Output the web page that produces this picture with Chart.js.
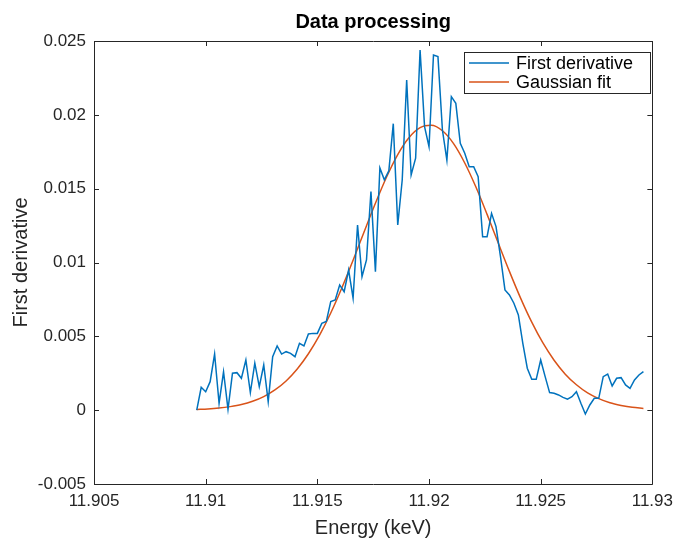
<!DOCTYPE html>
<html>
<head>
<meta charset="utf-8">
<script src="https://cdn.jsdelivr.net/npm/chart.js@4.4.1/dist/chart.umd.min.js"></script>
<style>
  html, body { margin: 0; padding: 0; background: #fff; }
</style>
</head>
<body>
<canvas id="chart" width="680" height="541"></canvas>
<script>
// --- Data ---
const energy = [
    11.9096, 11.9098, 11.9100, 11.9102, 11.9104, 11.9106, 11.9108, 11.9110, 11.9112, 11.9114,
    11.9116, 11.9118, 11.9120, 11.9122, 11.9124, 11.9126, 11.9128, 11.9130, 11.9132, 11.9134,
    11.9136, 11.9138, 11.9140, 11.9142, 11.9144, 11.9146, 11.9148, 11.9150, 11.9152, 11.9154,
    11.9156, 11.9158, 11.9160, 11.9162, 11.9164, 11.9166, 11.9168, 11.9170, 11.9172, 11.9174,
    11.9176, 11.9178, 11.9180, 11.9182, 11.9184, 11.9186, 11.9188, 11.9190, 11.9192, 11.9194,
    11.9196, 11.9198, 11.9200, 11.9202, 11.9204, 11.9206, 11.9208, 11.9210, 11.9212, 11.9214,
    11.9216, 11.9218, 11.9220, 11.9222, 11.9224, 11.9226, 11.9228, 11.9230, 11.9232, 11.9234,
    11.9236, 11.9238, 11.9240, 11.9242, 11.9244, 11.9246, 11.9248, 11.9250, 11.9252, 11.9254,
    11.9256, 11.9258, 11.9260, 11.9262, 11.9264, 11.9266, 11.9268, 11.9270, 11.9272, 11.9274,
    11.9276, 11.9278, 11.9280, 11.9282, 11.9284, 11.9286, 11.9288, 11.9290, 11.9292, 11.9294,
    11.9296
];
const firstDerivative = [
    0, 0.00155, 0.00125, 0.00193, 0.0038, 0.00047, 0.0026, 0.00006, 0.0025, 0.00254,
    0.00216, 0.0034, 0.00119, 0.00318, 0.00159, 0.00306, 0.00058, 0.00362, 0.00435, 0.0038,
    0.00396, 0.00385, 0.00362, 0.00453, 0.00435, 0.00516, 0.0052, 0.0052, 0.00588, 0.006,
    0.00735, 0.00746, 0.00848, 0.00802, 0.00949, 0.00758, 0.01254, 0.00904, 0.01017, 0.0148,
    0.00938, 0.0164, 0.0156, 0.0162, 0.0194, 0.01254, 0.01559, 0.02236, 0.01593, 0.01706,
    0.02439, 0.0192, 0.01784, 0.02405, 0.02394, 0.01897, 0.01694, 0.02123, 0.02078, 0.01807,
    0.0174, 0.01649, 0.01649, 0.01581, 0.01175, 0.01175, 0.01333, 0.01243, 0.0104, 0.00814,
    0.0078, 0.00724, 0.00645, 0.00453, 0.00284, 0.00209, 0.00209, 0.0034, 0.00227, 0.00119,
    0.00114, 0.00103, 0.00087, 0.00074, 0.00091, 0.00125, 0.00047, -0.00026, 0.00035, 0.0008,
    0.0008, 0.00227, 0.00245, 0.00164, 0.00216, 0.0022, 0.00171, 0.00148, 0.00205, 0.00238,
    0.00261
];

const fitEnergy = [
    11.9096, 11.9101, 11.9106, 11.9111, 11.9116, 11.9121, 11.9126, 11.9131, 11.9136, 11.9141,
    11.9146, 11.9151, 11.9156, 11.9161, 11.9166, 11.9171, 11.9176, 11.9181, 11.9186, 11.9191,
    11.9196, 11.9201, 11.9206, 11.9211, 11.9216, 11.9221, 11.9226, 11.9231, 11.9236, 11.9241,
    11.9246, 11.9251, 11.9256, 11.9261, 11.9266, 11.9271, 11.9276, 11.9281, 11.9286, 11.9291,
    11.9296
];
const gaussianFit = [
    0.00005, 0.00008, 0.00014, 0.00024, 0.00038, 0.0006, 0.00092, 0.00137, 0.00198, 0.00279,
    0.00382, 0.00508, 0.00658, 0.00829, 0.01015, 0.0121, 0.01401, 0.01579, 0.01731, 0.01845,
    0.01913, 0.01929, 0.01892, 0.01805, 0.01674, 0.01511, 0.01326, 0.01132, 0.0094, 0.00759,
    0.00596, 0.00455, 0.00338, 0.00244, 0.00172, 0.00117, 0.00078, 0.0005, 0.00032, 0.00019,
    0.00012
];

const seriesNames = ['First derivative', 'Gaussian fit'];
const chartTitle = 'Data processing';
const xTickValues = [11.905, 11.91, 11.915, 11.92, 11.925, 11.93];
const xTickLabels = ['11.905', '11.91', '11.915', '11.92', '11.925', '11.93'];
const yTickValues = [-0.005, 0, 0.005, 0.01, 0.015, 0.02, 0.025];
const yTickLabels = ['-0.005', '0', '0.005', '0.01', '0.015', '0.02', '0.025'];

const FONT = '"Liberation Sans", Arial, Helvetica, sans-serif';
const AXIS_COLOR = '#262626';

// --- Plugins: MATLAB style box, inward ticks, title and legend ---
const matlabAxes = {
    id: 'matlabAxes',
    afterDatasetsDraw(chart) {
        const { ctx, chartArea: a, scales: { x, y } } = chart;
        const tick = 5;
        ctx.save();
        ctx.strokeStyle = AXIS_COLOR;
        ctx.lineWidth = 1;
        ctx.beginPath();
        ctx.rect(Math.round(a.left) + 0.5, Math.round(a.top) + 0.5,
                 Math.round(a.right - a.left), Math.round(a.bottom - a.top));
        xTickValues.forEach(v => {
            const px = Math.round(x.getPixelForValue(v)) + 0.5;
            ctx.moveTo(px, a.bottom); ctx.lineTo(px, a.bottom - tick);
            ctx.moveTo(px, a.top); ctx.lineTo(px, a.top + tick);
        });
        yTickValues.forEach(v => {
            const py = Math.round(y.getPixelForValue(v)) + 0.5;
            ctx.moveTo(a.left, py); ctx.lineTo(a.left + tick, py);
            ctx.moveTo(a.right, py); ctx.lineTo(a.right - tick, py);
        });
        ctx.stroke();

        // title, centred over the axes
        ctx.fillStyle = '#000';
        ctx.font = 'bold 20px ' + FONT;
        ctx.textAlign = 'center';
        ctx.textBaseline = 'middle';
        ctx.fillText(chartTitle, (a.left + a.right) / 2, 22);

        // legend box in the top right corner
        ctx.font = '18px ' + FONT;
        const textW = Math.max(...chart.data.datasets.map(d => ctx.measureText(d.label).width));
        const boxW = Math.round(52 + textW + 17);
        const boxR = Math.round(a.right) - 2;
        const boxL = boxR - boxW;
        const boxT = Math.round(a.top) + 11;
        const rowH = 19;
        ctx.fillStyle = '#fff';
        ctx.fillRect(boxL, boxT, boxW, 41);
        ctx.strokeStyle = AXIS_COLOR;
        ctx.strokeRect(boxL + 0.5, boxT + 0.5, boxW, 41);
        ctx.textAlign = 'left';
        chart.data.datasets.forEach((d, i) => {
            const cy = boxT + 11 + i * rowH;
            ctx.strokeStyle = d.borderColor;
            ctx.lineWidth = 1.5;
            ctx.beginPath();
            ctx.moveTo(boxL + 5, cy); ctx.lineTo(boxL + 45, cy);
            ctx.stroke();
            ctx.fillStyle = '#000';
            ctx.fillText(d.label, boxL + 52, cy + 1);
        });
        ctx.restore();
    }
};

const ctx = document.getElementById('chart').getContext('2d');
new Chart(ctx, {
    type: 'line',
    data: {
        datasets: [
            {
                label: seriesNames[0],
                data: energy.map((e, i) => ({ x: e, y: firstDerivative[i] })),
                borderColor: '#0072BD',
                borderWidth: 1.5,
                pointRadius: 0,
                tension: 0
            },
            {
                label: seriesNames[1],
                data: fitEnergy.map((e, i) => ({ x: e, y: gaussianFit[i] })),
                borderColor: '#D95319',
                borderWidth: 1.5,
                pointRadius: 0,
                cubicInterpolationMode: 'monotone'
            }
        ]
    },
    options: {
        responsive: false,
        animation: false,
        devicePixelRatio: 1,
        layout: { padding: { left: 0, right: 24, top: 41, bottom: 0 } },
        plugins: {
            legend: { display: false },
            title: { display: false },
            tooltip: { enabled: false }
        },
        scales: {
            x: {
                type: 'linear',
                min: 11.905,
                max: 11.93,
                grid: { display: false, drawTicks: false },
                border: { display: false },
                afterBuildTicks: s => { s.ticks = xTickValues.map(v => ({ value: v })); },
                afterFit: s => { s.height = 57; },
                ticks: {
                    callback: (v, i) => xTickLabels[i],
                    font: { family: FONT, size: 17 },
                    color: AXIS_COLOR,
                    padding: 7,
                    maxRotation: 0,
                    autoSkip: false
                },
                title: {
                    display: true,
                    text: 'Energy (keV)',
                    font: { family: FONT, size: 20 },
                    color: AXIS_COLOR,
                    padding: { top: 0, bottom: 1 }
                }
            },
            y: {
                type: 'linear',
                min: -0.005,
                max: 0.025,
                grid: { display: false, drawTicks: false },
                border: { display: false },
                afterBuildTicks: s => { s.ticks = yTickValues.map(v => ({ value: v })); },
                afterFit: s => { s.width = 94; },
                ticks: {
                    callback: (v, i) => yTickLabels[i],
                    font: { family: FONT, size: 17 },
                    color: AXIS_COLOR,
                    padding: 8,
                    autoSkip: false
                },
                title: {
                    display: true,
                    text: 'First derivative',
                    font: { family: FONT, size: 20 },
                    color: AXIS_COLOR,
                    padding: { top: 9, bottom: 0 }
                }
            }
        }
    },
    plugins: [matlabAxes]
});
</script>
</body>
</html>
